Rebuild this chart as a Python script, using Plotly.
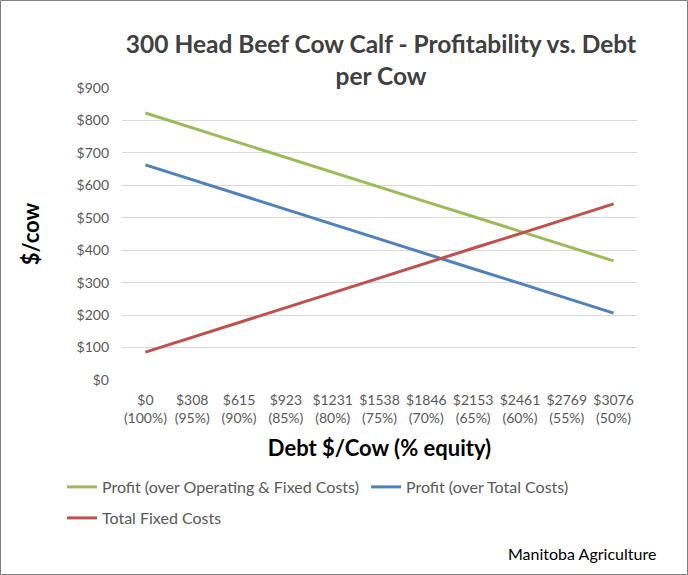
import plotly.graph_objects as go

debt_labels = ["$0", "$308", "$615", "$923", "$1231", "$1538", "$1846", "$2153", "$2461", "$2769", "$3076"]
equity_labels = ["(100%)", "(95%)", "(90%)", "(85%)", "(80%)", "(75%)", "(70%)", "(65%)", "(60%)", "(55%)", "(50%)"]
categories = [f"{d}<br>{e}" for d, e in zip(debt_labels, equity_labels)]

profit_op_fixed = [823, 777, 732, 686, 640, 595, 549, 504, 458, 412, 367]
profit_total = [663, 617, 572, 526, 480, 435, 389, 343, 298, 252, 206]
total_fixed = [86, 132, 177, 223, 269, 314, 360, 406, 451, 497, 543]

y_ticks = [0, 100, 200, 300, 400, 500, 600, 700, 800, 900]
y_tick_text = [f"${v}" for v in y_ticks]

FONT = "Lato"
W, H = 688, 575
L, R, T, B = 122, 51, 88, 195
PW, PH = W - L - R, H - T - B

fig = go.Figure()
fig.add_trace(go.Scatter(x=categories, y=profit_op_fixed, mode="lines",
                         name="Profit (over Operating & Fixed Costs)",
                         line=dict(color="#9BBB59", width=3), legend="legend"))
fig.add_trace(go.Scatter(x=categories, y=profit_total, mode="lines",
                         name="Profit (over Total Costs)",
                         line=dict(color="#4F81BD", width=3), legend="legend3"))
fig.add_trace(go.Scatter(x=categories, y=total_fixed, mode="lines",
                         name="Total Fixed Costs",
                         line=dict(color="#C0504D", width=3), legend="legend2"))

legend_common = dict(orientation="h", xref="container", yref="container",
                     xanchor="left", yanchor="middle",
                     font=dict(size=16, color="#595959"), itemwidth=30,
                     bgcolor="rgba(0,0,0,0)")

fig.update_layout(
    width=W, height=H,
    margin=dict(l=L, r=R, t=T, b=B, autoexpand=False),
    paper_bgcolor="white", plot_bgcolor="white",
    font=dict(family=FONT, size=14, color="#595959"),
    title=dict(text="300 Head Beef Cow Calf - Profitability vs. Debt<br>per Cow",
               x=381 / W, xanchor="center", y=1 - 53 / H, yanchor="top",
               font=dict(family=FONT, size=24.5, color="#404040", weight="bold")),
    xaxis=dict(type="category", range=[-0.5, 10.5], showgrid=False, showline=False, ticks="",
               automargin=False, ticklabelstandoff=10,
               tickfont=dict(size=14, color="#595959"),
               title=dict(text="Debt $/Cow (% equity)", standoff=15,
                          font=dict(size=22, color="black", weight="bold"))),
    yaxis=dict(range=[0, 900], tickvals=y_ticks, ticktext=y_tick_text,
               showgrid=True, gridcolor="#D9D9D9", gridwidth=1,
               zeroline=False, showline=False, ticks="", ticklabelstandoff=12,
               automargin=False,
               tickfont=dict(size=14, color="#595959"),
               title=dict(text="$/cow", standoff=30,
                          font=dict(size=22, color="black", weight="bold"))),
    showlegend=True,
    legend=dict(**legend_common, x=62 / W, y=1 - 487 / H),
    legend3=dict(**legend_common, x=366 / W, y=1 - 487 / H),
    legend2=dict(**legend_common, x=62 / W, y=1 - 518 / H),
    shapes=[dict(type="rect", xref="paper", yref="paper",
                 x0=(0.5 - L) / PW, x1=(W - 0.5 - L) / PW,
                 y0=((H - B) - (H - 0.5)) / PH, y1=((H - B) - 0.5) / PH,
                 line=dict(color="#808080", width=1), fillcolor="rgba(0,0,0,0)",
                 layer="below")],
    annotations=[dict(text="Manitoba Agriculture", xref="paper", yref="paper",
                      x=(658 - L) / PW, xanchor="right",
                      y=((H - B) - 553) / PH, yanchor="middle",
                      showarrow=False, font=dict(size=16, color="black"))],
)

fig.write_html("out.html", config={"displayModeBar": False},
               post_script="document.body.style.margin='0';")
